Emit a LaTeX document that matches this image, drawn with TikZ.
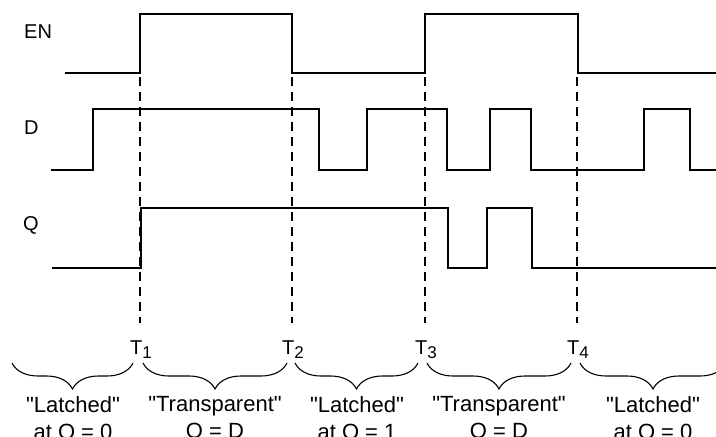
\documentclass[tikz,border=0pt]{standalone}
\usepackage{fontspec}
\newfontfamily\sansfont{Liberation Sans}
\usetikzlibrary{decorations.pathreplacing}

\newcommand{\tlab}[1]{T\raisebox{-0.45ex}{\fontsize{17}{17}\selectfont #1}}

\begin{document}
\begin{tikzpicture}[x=1pt, y=-1pt,
    wave/.style={line width=2.4pt},
    guide/.style={dash pattern=on 9pt off 6pt, line width=1.1pt},
    span/.style={decorate, decoration={brace, mirror, amplitude=26pt}, line width=1.1pt},
    lbl/.style={font=\sansfont\fontsize{20}{20}\selectfont, anchor=west, inner sep=0pt},
    tl/.style={font=\sansfont\fontsize{20}{20}\selectfont, anchor=base west, inner sep=0pt},
    mode/.style={font=\sansfont\fontsize{22}{27}\selectfont, align=center, anchor=north, inner sep=0pt}]
    \useasboundingbox (0,0) rectangle (716,437);

    \node[lbl] (en) at (24,32) {EN};
    \node[lbl] (d) at (24,128) {D};
    \node[lbl] (q) at (23,225) {Q};

    \draw[wave] (65,73) -- (140,73) |- (292,14) |- (425,73) |- (578,14) |- (716,73);
    \draw[wave] (51,170) -- (93,170) |- (319,109) |- (367,170) |- (447,109) |- (490,170)
        |- (531,109) |- (644,170) |- (690,109) |- (716,170);
    \draw[wave] (52,268) -- (141,268) |- (448,208) |- (487,268) |- (532,208) |- (716,268);

    \node[tl] (t1) at (130,354) {\tlab{1}};
    \node[tl] (t2) at (282,354) {\tlab{2}};
    \node[tl] (t3) at (415,354) {\tlab{3}};
    \node[tl] (t4) at (567,354) {\tlab{4}};

    \coordinate (g1) at (140,77);
    \coordinate (g2) at (292,77);
    \coordinate (g3) at (425,77);
    \coordinate (g4) at (577,77);
    \draw[guide] (g1) -- (140,323);
    \draw[guide] (g2) -- (292,323);
    \draw[guide] (g3) -- (425,323);
    \draw[guide] (g4) -- (577,323);

    \draw[span] (12,363) -- (133,363);
    \draw[span] (143,363) -- (287,363);
    \draw[span] (295,363) -- (418,363);
    \draw[span] (427,363) -- (571,363);
    \draw[span] (580,363) -- (726,363);

    \node[mode] (m1) at (73,396) {"Latched"\\at Q = 0};
    \node[mode] (m2) at (215,396) {"Transparent"\\Q = D};
    \node[mode] (m3) at (357,396) {"Latched"\\at Q = 1};
    \node[mode] (m4) at (499,396) {"Transparent"\\Q = D};
    \node[mode] (m5) at (653,396) {"Latched"\\at Q = 0};
\end{tikzpicture}
\end{document}
